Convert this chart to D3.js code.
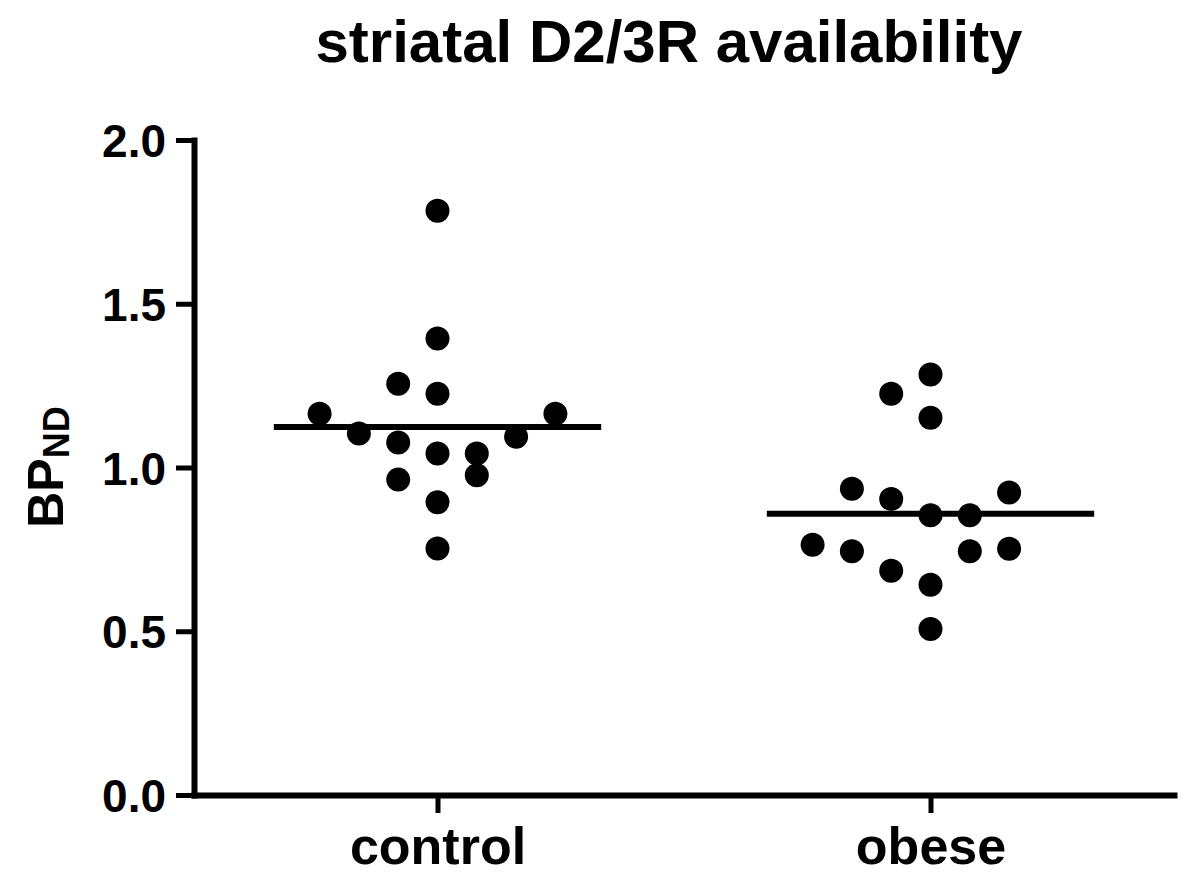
<!DOCTYPE html>
<html>
<head>
<meta charset="utf-8">
<script src="https://cdn.jsdelivr.net/npm/d3@7"></script>
<style>
  html, body { margin: 0; padding: 0; background: #fff; }
  svg { display: block; }
  text { font-family: "Liberation Sans", Arial, sans-serif; font-weight: bold; fill: #000; }
</style>
</head>
<body>
<svg id="chart" width="1200" height="891"></svg>
<script>
// ---- data ----
const categories = ["control", "obese"];

const controlValues  = [1.784, 1.394, 1.256, 1.225, 1.164, 1.164, 1.104, 1.094, 1.076, 1.043, 1.043, 0.963, 0.976, 0.894, 0.753];
const controlColumns = [0, 0, -1, 0, -3, 3, -2, 2, -1, 0, 1, -1, 1, 0, 0];

const obeseValues  = [1.284, 1.225, 1.152, 0.935, 0.904, 0.924, 0.854, 0.854, 0.764, 0.744, 0.685, 0.642, 0.744, 0.752, 0.507];
const obeseColumns = [0, -1, 0, -2, -1, 2, 0, 1, -3, -2, -1, 0, 1, 2, 0];

const groupMeans = [1.124, 0.859];

const yTickValues = [0, 0.5, 1.0, 1.5, 2.0];
const yTickLabels = ["0.0", "0.5", "1.0", "1.5", "2.0"];

const titleText = "striatal D2/3R availability";

// ---- layout ----
const svg = d3.select("#chart");
const axisX0 = 191, axisX1 = 1177, axisY0 = 795, axisY1 = 140;
const columnStep = 39.3;
const dotRadius = 12;

const x = d3.scalePoint().domain(categories).range([axisX0, axisX1]).padding(0.5);
const y = d3.scaleLinear().domain([0, 2]).range([axisY0, axisY1]);

// title
svg.append("text")
  .attr("x", 669).attr("y", 62)
  .attr("text-anchor", "middle")
  .style("font-size", "60px")
  .text(titleText);

// y axis title BP_ND
const yTitle = svg.append("text")
  .attr("transform", "translate(63,467) rotate(-90)")
  .attr("text-anchor", "middle");
yTitle.append("tspan").style("font-size", "50px").text("BP");
yTitle.append("tspan").style("font-size", "36px").attr("dy", 6).text("ND");

// y axis
const yAxis = svg.append("g")
  .attr("transform", `translate(194,0)`)
  .call(d3.axisLeft(y)
    .tickValues(yTickValues)
    .tickFormat((d, i) => yTickLabels[i])
    .tickSize(18)
    .tickSizeOuter(0)
    .tickPadding(10));
yAxis.select(".domain").attr("stroke", "#000").attr("stroke-width", 6).attr("stroke-linecap", "square");
yAxis.selectAll(".tick line").attr("stroke", "#000").attr("stroke-width", 5);
yAxis.selectAll(".tick text")
  .style("font-size", "46px")
  .style("font-family", "'Liberation Sans', Arial, sans-serif")
  .style("font-weight", "bold")
  .attr("dy", "0.36em");

// x axis
const xAxis = svg.append("g")
  .attr("transform", `translate(0,${axisY0})`)
  .call(d3.axisBottom(x)
    .tickSize(18)
    .tickSizeOuter(0)
    .tickPadding(14));
xAxis.select(".domain").attr("stroke", "#000").attr("stroke-width", 6);
xAxis.selectAll(".tick line").attr("stroke", "#000").attr("stroke-width", 5);
xAxis.selectAll(".tick text")
  .style("font-size", "52px")
  .style("font-family", "'Liberation Sans', Arial, sans-serif")
  .style("font-weight", "bold")
  .attr("dy", "0.71em");

// points and mean lines
const groups = [
  { cat: categories[0], values: controlValues, cols: controlColumns, mean: groupMeans[0] },
  { cat: categories[1], values: obeseValues, cols: obeseColumns, mean: groupMeans[1] }
];

const halfLine = x.step() * 0.332;

groups.forEach(g => {
  svg.append("line")
    .attr("x1", x(g.cat) - halfLine)
    .attr("x2", x(g.cat) + halfLine)
    .attr("y1", y(g.mean))
    .attr("y2", y(g.mean))
    .attr("stroke", "#000")
    .attr("stroke-width", 6);

  svg.append("g").selectAll("circle")
    .data(g.values.map((v, i) => ({ v, c: g.cols[i] })))
    .join("circle")
    .attr("cx", d => x(g.cat) + d.c * columnStep)
    .attr("cy", d => y(d.v))
    .attr("r", dotRadius)
    .attr("fill", "#000");
});
</script>
</body>
</html>
